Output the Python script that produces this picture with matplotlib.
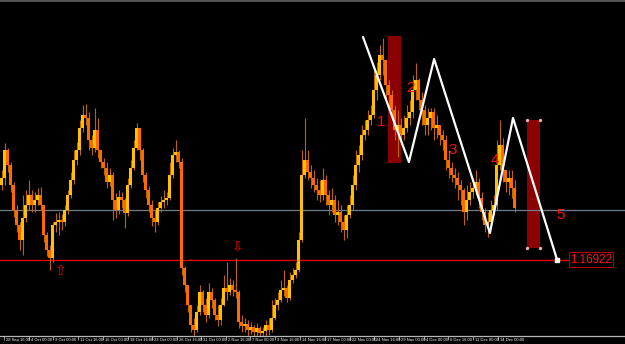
import matplotlib
matplotlib.use("Agg")
import matplotlib.pyplot as plt
import matplotlib.transforms as mtransforms
from matplotlib.patches import Rectangle
import numpy as np

# EURUSD H4 candles (open of first bar, then close/high/low per bar)
first_open = 1.1767
closes = [1.1774, 1.1802, 1.1787, 1.1767, 1.1742, 1.1727, 1.1712, 1.1734, 1.1747, 1.1757,
          1.1747, 1.1752, 1.1757, 1.1747, 1.1717, 1.1702, 1.1694, 1.1727, 1.1730, 1.1732,
          1.1730, 1.1742, 1.1757, 1.1772, 1.1792, 1.1802, 1.1824, 1.1837, 1.1834, 1.1812,
          1.1804, 1.1822, 1.1802, 1.1790, 1.1784, 1.1770, 1.1777, 1.1752, 1.1742, 1.1755,
          1.1752, 1.1739, 1.1767, 1.1784, 1.1804, 1.1824, 1.1802, 1.1777, 1.1762, 1.1747,
          1.1734, 1.1730, 1.1744, 1.1750, 1.1752, 1.1754, 1.1777, 1.1797, 1.1800, 1.1790,
          1.1684, 1.1667, 1.1647, 1.1627, 1.1622, 1.1640, 1.1660, 1.1647, 1.1637, 1.1660,
          1.1652, 1.1637, 1.1632, 1.1647, 1.1664, 1.1660, 1.1667, 1.1662, 1.1660, 1.1630,
          1.1626, 1.1628, 1.1622, 1.1625, 1.1620, 1.1624, 1.1619, 1.1621, 1.1627, 1.1622,
          1.1634, 1.1647, 1.1652, 1.1662, 1.1664, 1.1654, 1.1672, 1.1677, 1.1682, 1.1712,
          1.1777, 1.1792, 1.1780, 1.1774, 1.1767, 1.1762, 1.1757, 1.1772, 1.1757, 1.1747,
          1.1752, 1.1737, 1.1740, 1.1730, 1.1722, 1.1737, 1.1747, 1.1767, 1.1787, 1.1797,
          1.1817, 1.1822, 1.1832, 1.1837, 1.1862, 1.1877, 1.1897, 1.1892, 1.1867, 1.1857,
          1.1842, 1.1822, 1.1827, 1.1817, 1.1824, 1.1834, 1.1840, 1.1862, 1.1872, 1.1852,
          1.1842, 1.1827, 1.1834, 1.1840, 1.1824, 1.1827, 1.1817, 1.1812, 1.1792, 1.1784,
          1.1777, 1.1774, 1.1767, 1.1762, 1.1740, 1.1752, 1.1760, 1.1764, 1.1770, 1.1754,
          1.1740, 1.1727, 1.1730, 1.1742, 1.1747, 1.1787, 1.1807, 1.1782, 1.1770, 1.1774,
          1.1764, 1.1744]
highs = [1.1782, 1.1809, 1.1804, 1.1790, 1.1770, 1.1747, 1.1730, 1.1757, 1.1762, 1.1772,
         1.1762, 1.1760, 1.1764, 1.1765, 1.1747, 1.1720, 1.1707, 1.1730, 1.1739, 1.1740,
         1.1738, 1.1747, 1.1762, 1.1780, 1.1802, 1.1810, 1.1832, 1.1847, 1.1848, 1.1840,
         1.1817, 1.1844, 1.1834, 1.1802, 1.1794, 1.1790, 1.1784, 1.1780, 1.1759, 1.1762,
         1.1760, 1.1754, 1.1774, 1.1792, 1.1812, 1.1829, 1.1824, 1.1804, 1.1780, 1.1766,
         1.1752, 1.1742, 1.1750, 1.1756, 1.1762, 1.1760, 1.1790, 1.1804, 1.1812, 1.1802,
         1.1794, 1.1686, 1.1667, 1.1647, 1.1634, 1.1647, 1.1667, 1.1662, 1.1654, 1.1669,
         1.1664, 1.1654, 1.1647, 1.1654, 1.1677, 1.1690, 1.1674, 1.1672, 1.1694, 1.1662,
         1.1637, 1.1634, 1.1632, 1.1630, 1.1627, 1.1629, 1.1626, 1.1625, 1.1632, 1.1634,
         1.1652, 1.1654, 1.1660, 1.1672, 1.1682, 1.1667, 1.1680, 1.1684, 1.1690, 1.1720,
         1.1802, 1.1834, 1.1802, 1.1787, 1.1782, 1.1774, 1.1772, 1.1784, 1.1777, 1.1762,
         1.1764, 1.1757, 1.1752, 1.1747, 1.1737, 1.1747, 1.1757, 1.1777, 1.1802, 1.1807,
         1.1827, 1.1832, 1.1842, 1.1847, 1.1882, 1.1890, 1.1907, 1.1914, 1.1892, 1.1872,
         1.1862, 1.1847, 1.1842, 1.1834, 1.1837, 1.1847, 1.1852, 1.1877, 1.1889, 1.1874,
         1.1860, 1.1847, 1.1844, 1.1844, 1.1844, 1.1837, 1.1827, 1.1822, 1.1817, 1.1802,
         1.1790, 1.1784, 1.1780, 1.1772, 1.1764, 1.1767, 1.1770, 1.1774, 1.1782, 1.1774,
         1.1760, 1.1744, 1.1740, 1.1752, 1.1757, 1.1812, 1.1832, 1.1814, 1.1782, 1.1782,
         1.1782, 1.1772]
lows = [1.1762, 1.1767, 1.1780, 1.1760, 1.1735, 1.1720, 1.1702, 1.1697, 1.1730, 1.1742,
        1.1740, 1.1740, 1.1747, 1.1742, 1.1710, 1.1696, 1.1682, 1.1690, 1.1720, 1.1717,
        1.1722, 1.1726, 1.1738, 1.1754, 1.1768, 1.1787, 1.1797, 1.1820, 1.1827, 1.1802,
        1.1797, 1.1800, 1.1794, 1.1784, 1.1777, 1.1764, 1.1766, 1.1732, 1.1734, 1.1738,
        1.1744, 1.1724, 1.1736, 1.1764, 1.1782, 1.1802, 1.1792, 1.1770, 1.1754, 1.1740,
        1.1726, 1.1720, 1.1727, 1.1740, 1.1744, 1.1747, 1.1752, 1.1774, 1.1790, 1.1784,
        1.1677, 1.1660, 1.1640, 1.1620, 1.1616, 1.1620, 1.1637, 1.1640, 1.1630, 1.1634,
        1.1644, 1.1632, 1.1626, 1.1627, 1.1646, 1.1652, 1.1657, 1.1656, 1.1654, 1.1624,
        1.1620, 1.1620, 1.1616, 1.1618, 1.1616, 1.1616, 1.1615, 1.1615, 1.1616, 1.1617,
        1.1620, 1.1632, 1.1642, 1.1650, 1.1656, 1.1650, 1.1652, 1.1669, 1.1674, 1.1680,
        1.1710, 1.1774, 1.1772, 1.1764, 1.1760, 1.1752, 1.1750, 1.1752, 1.1747, 1.1737,
        1.1740, 1.1730, 1.1727, 1.1720, 1.1712, 1.1714, 1.1734, 1.1742, 1.1762, 1.1780,
        1.1792, 1.1812, 1.1817, 1.1827, 1.1834, 1.1852, 1.1872, 1.1877, 1.1852, 1.1842,
        1.1832, 1.1812, 1.1795, 1.1807, 1.1812, 1.1820, 1.1827, 1.1834, 1.1852, 1.1842,
        1.1827, 1.1817, 1.1817, 1.1822, 1.1812, 1.1814, 1.1807, 1.1802, 1.1782, 1.1774,
        1.1770, 1.1764, 1.1752, 1.1747, 1.1727, 1.1732, 1.1747, 1.1754, 1.1757, 1.1744,
        1.1732, 1.1720, 1.1715, 1.1724, 1.1737, 1.1742, 1.1782, 1.1770, 1.1760, 1.1757,
        1.1754, 1.1740]

# axis labels (bar index of each separator)
tick_bars = [0.8, 9.2, 17.2, 25.5, 33.8, 42.2, 50.2, 58.5, 66.5, 74.8, 82.8,
             91.2, 99.5, 107.8, 116.2, 124.2, 132.5, 140.8, 148.8, 157.2, 165.5]
tick_labels = ["28 Sep 16:00", "4 Oct 00:00", "9 Oct 00:00", "11 Oct 16:00", "16 Oct 00:00",
               "18 Oct 16:00", "23 Oct 00:00", "26 Oct 16:00", "31 Oct 00:00", "2 Nov 16:00",
               "7 Nov 00:00", "9 Nov 16:00", "14 Nov 16:00", "17 Nov 00:00", "22 Nov 00:00",
               "24 Nov 16:00", "29 Nov 00:00", "4 Dec 00:00", "6 Dec 16:00", "11 Dec 00:00",
               "14 Dec 00:00"]

# drawn objects
wave_bars = [120.5, 135.8, 144.2, 162.8, 170.5, 185.2]
wave_prices = [1.1915, 1.1790, 1.1893, 1.1719, 1.1834, 1.16922]
wave_labels = ["1", "2", "3", "4", "5"]
wave_label_bars = [126.5, 136.2, 150.5, 164.5, 186.2]
wave_label_prices = [1.1830, 1.1864, 1.1802, 1.1792, 1.1737]
boxes = [(128.8, 133.2, 1.1789, 1.1916), (175.2, 179.5, 1.1704, 1.1832)]
gray_level = 1.1742
red_level = 1.16922
arrow_up = (19.5, 1.1681)
arrow_down = (78.5, 1.1706)

fig = plt.figure(figsize=(6.25, 3.44), dpi=100, facecolor='black')
ax = fig.add_axes([0, 8 / 344, 1, 336 / 344])
ax.set_facecolor('black')

# rectangles sit behind the price bars
for x0, x1, y0, y1 in boxes:
    ax.add_patch(Rectangle((x0, y0), x1 - x0, y1 - y0, facecolor='#8B0000', edgecolor='none', zorder=1))
x0, x1, y0, y1 = boxes[1]
ax.scatter([x0, x1, x0, x1], [y0, y0, y1, y1], s=2, color='#F0B0B0', zorder=2)

ax.axhline(gray_level, color='#6F7C8C', lw=0.9, zorder=2)
ax.axhline(red_level, xmax=570 / 625, color='#E80000', lw=1.0, zorder=2)

opens = [first_open] + closes[:-1]
bars = np.arange(len(closes))
for i in bars:
    o, c = opens[i], closes[i]
    hi = max(highs[i], o, c)
    lo = min(lows[i], o, c)
    up = c >= o
    ax.vlines(i, lo, hi, color='#C06400', lw=0.8, zorder=3)
    ax.bar(i, max(abs(c - o), 0.00012), bottom=min(o, c), width=0.72,
           color='#FFC000' if up else '#FF6A00', edgecolor='none', zorder=4)

ax.plot(wave_bars, wave_prices, color='white', lw=1.6, zorder=5, solid_capstyle='round')
ax.plot(wave_bars[-1], wave_prices[-1], 's', ms=2.5, color='white', zorder=5)
for t, bx, by in zip(wave_labels, wave_label_bars, wave_label_prices):
    ax.text(bx, by, t, color='#FF1010', fontsize=11, family='Liberation Sans',
            ha='center', va='center', zorder=6)

ax.text(arrow_up[0], arrow_up[1], '⇧', color='#F00000', fontsize=10, ha='center', va='center', zorder=6)
ax.text(arrow_down[0], arrow_down[1], '⇩', color='#F00000', fontsize=10, ha='center', va='center', zorder=6)

# price tag at the right
tr = mtransforms.blended_transform_factory(ax.transAxes, ax.transData)
ax.text(591 / 625, red_level, '1.16922', transform=tr, color='#FF1010', fontsize=8.4,
        family='Liberation Sans', ha='center', va='center', zorder=7,
        bbox=dict(boxstyle='square,pad=0.12', facecolor='black', edgecolor='#B00000', lw=0.8))

ax.set_xlim(-0.5, 207.83)
ax.set_ylim(1.1616, 1.1952)

for s in ['left', 'right']:
    ax.spines[s].set_visible(False)
ax.spines['bottom'].set_color('#B8B8B8')
ax.spines['bottom'].set_linewidth(0.9)
ax.spines['top'].set_color('#555555')
ax.spines['top'].set_linewidth(2)
ax.set_yticks([])
ax.set_xticks(tick_bars)
ax.set_xticklabels([])
ax.tick_params(axis='x', direction='out', length=3, width=0.6, color='#B8B8B8')

trx = mtransforms.blended_transform_factory(ax.transData, ax.transAxes)
for b, lab in zip(tick_bars, tick_labels):
    ax.text(b + 0.6, -0.012, lab, transform=trx, color='white', fontsize=3.0,
            family='Liberation Sans', ha='left', va='center', clip_on=False)

fig.savefig('out.png', dpi=100, facecolor='black')
